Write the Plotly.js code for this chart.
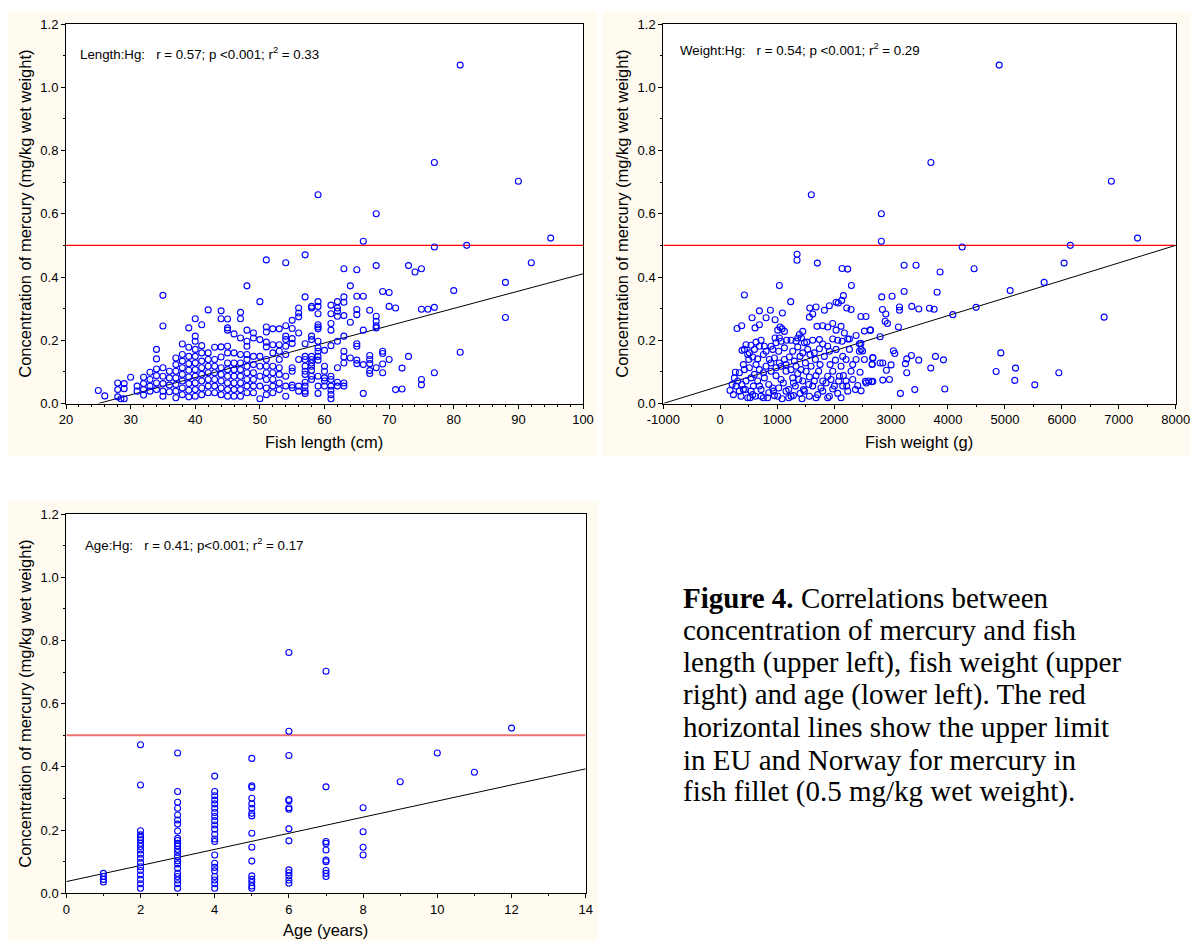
<!DOCTYPE html>
<html>
<head>
<meta charset="utf-8">
<script src="https://cdn.plot.ly/plotly-3.0.1.min.js"></script>
<style>
  html, body { margin: 0; padding: 0; background: #ffffff; }
  #chart { width: 1191px; height: 941px; }
</style>
</head>
<body>
<div id="chart"></div>
<script>
// ---------------- DATA ----------------
// Fish length (cm) vs Hg (mg/kg wet weight)
const lengthPoints = [
  [25,.041],[26,.024],[28,.065],[28,.044],[28,.021],[28.5,.015],[29,.063],[29,.047],[29,.015],[30,.083],
  [31,.055],[31,.039],[32,.083],[32,.063],[32,.044],[32,.027],[33,.099],[33,.076],[33,.055],[33,.039],
  [34,.171],[34,.141],[34,.109],[34,.088],[34,.065],[34,.044],
  [35,.342],[35,.245],[35,.113],[35,.086],[35,.063],[35,.039],[35,.023],
  [36,.102],[36,.081],[36,.058],[36,.037],
  [37,.144],[37,.123],[37,.102],[37,.081],[37,.06],[37,.039],[37,.018],
  [38,.188],[38,.155],[38,.134],[38,.113],[38,.092],[38,.071],[38,.049],[38,.028],
  [39,.239],[39,.178],[39,.149],[39,.126],[39,.105],[39,.084],[39,.063],[39,.042],[39,.021],
  [40,.268],[40,.213],[40,.197],[40,.171],[40,.149],[40,.128],[40,.107],[40,.086],[40,.065],[40,.044],[40,.023],
  [41,.249],[41,.183],[41,.16],[41,.134],[41,.113],[41,.092],[41,.071],[41,.049],[41,.028],
  [42,.296],[42,.16],[42,.139],[42,.118],[42,.097],[42,.076],[42,.055],[42,.034],
  [43,.178],[43,.139],[43,.118],[43,.097],[43,.076],[43,.055],[43,.034],
  [44,.293],[44,.268],[44,.179],[44,.147],[44,.113],[44,.092],[44,.071],[44,.049],[44,.028],
  [45,.267],[45,.239],[45,.232],[45,.181],[45,.16],[45,.128],[45,.107],[45,.086],[45,.065],[45,.044],[45,.023],
  [46,.22],[46,.16],[46,.128],[46,.107],[46,.086],[46,.065],[46,.044],[46,.023],
  [47,.288],[47,.268],[47,.207],[47,.155],[47,.128],[47,.107],[47,.086],[47,.065],[47,.044],[47,.023],
  [48,.372],[48,.232],[48,.197],[48,.181],[48,.155],[48,.139],[48,.118],[48,.097],[48,.076],[48,.055],[48,.034],
  [49,.223],[49,.207],[49,.149],[49,.123],[49,.097],[49,.076],[49,.055],[49,.034],
  [50,.322],[50,.202],[50,.149],[50,.118],[50,.086],[50,.055],[50,.015],
  [51,.454],[51,.242],[51,.226],[51,.194],[51,.179],[51,.139],[51,.118],[51,.097],[51,.076],[51,.049],[51,.028],
  [52,.236],[52,.186],[52,.16],[52,.118],[52,.097],[52,.076],[52,.055],[52,.034],
  [53,.236],[53,.186],[53,.165],[53,.139],[53,.113],[53,.092],[53,.065],[53,.044],
  [54,.445],[54,.246],[54,.213],[54,.202],[54,.181],[54,.155],[54,.086],[54,.055],[54,.023],
  [55,.263],[55,.237],[55,.205],[55,.19],[55,.113],[55,.102],[55,.058],[55,.05],
  [56,.302],[56,.286],[56,.274],[56,.223],[56,.139],[56,.055],[56,.039],
  [57,.47],[57,.337],[57,.189],[57,.149],[57,.139],[57,.118],[57,.102],[57,.092],[57,.067],[57,.055],[57,.039],[57,.032],
  [58,.307],[58,.302],[58,.213],[58,.202],[58,.149],[58,.139],[58,.128],[58,.118],[58,.105],[58,.086],[58,.076],
  [59,.66],[59,.322],[59,.307],[59,.284],[59,.249],[59,.242],[59,.236],[59,.197],[59,.176],[59,.165],[59,.149],[59,.137],[59,.086],[59,.055],[59,.032],
  [60,.168],[60,.118],[60,.102],[60,.081],[60,.071],[60,.055],
  [61,.311],[61,.284],[61,.253],[61,.232],[61,.183],[61,.086],[61,.076],[61,.055],[61,.042],[61,.028],[61,.015],
  [62,.322],[62,.302],[62,.292],[62,.276],[62,.197],[62,.113],[62,.067],[62,.055],
  [63,.426],[63,.337],[63,.32],[63,.278],[63,.213],[63,.165],[63,.147],[63,.128],[63,.065],[63,.055],
  [64,.372],[64,.257],[64,.144],
  [65,.423],[65,.339],[65,.297],[65,.281],[65,.189],[65,.181],[65,.137],[65,.126],
  [66,.513],[66,.339],[66,.232],[66,.123],[66,.032],
  [67,.295],[67,.152],[67,.139],[67,.126],[67,.104],[67,.095],
  [68,.6],[68,.436],[68,.276],[68,.26],[68,.246],[68,.239],[68,.113],
  [69,.354],[69,.165],[69,.158],[69,.125],[69,.097],
  [70,.351],[70,.307],[70,.139],[71,.302],[71,.044],[72,.112],[72,.046],[73,.436],[73,.149],[74,.416],
  [75,.426],[75,.298],[75,.076],[75,.059],[76,.298],[77,.762],[77,.495],[77,.304],[77,.097],
  [80,.357],[81,1.07],[81,.162],[82,.5],[88,.383],[88,.272],[90,.703],[92,.445],[95,.523]
];

// Fish weight (g) vs Hg
const weightPoints = [
  [1349,.472],[1349,.453],[1706,.444],[2140,.427],[2239,.425],[2304,.373],[1039,.373],[424,.343],[1238,.322],
  [1572,.302],[1683,.305],[1829,.295],[1917,.309],[2035,.32],[2134,.326],[2163,.341],[2075,.318],[2222,.302],[2298,.297],
  [688,.293],[881,.295],[805,.271],[963,.265],[1092,.286],[295,.237],[377,.246],[611,.239],[688,.249],[559,.271],
  [1051,.242],[1086,.236],[1127,.228],[1010,.232],[963,.207],[1039,.207],
  [1449,.228],[1390,.218],[1361,.207],[1478,.192],[1566,.273],[1624,.283],[1700,.244],[1800,.246],[1888,.242],
  [1976,.253],[2035,.232],[2122,.244],[2181,.223],[2269,.204],[2386,.215],[2533,.229],[2632,.232],
  [541,.184],[629,.194],[717,.2],[775,.181],[892,.181],[980,.192],[1068,.197],[1168,.2],[1244,.2],[1332,.197],
  [1426,.207],[1519,.194],[1624,.2],[1742,.202],[1800,.188],[1888,.181],[1976,.204],[2064,.2],[2140,.197],
  [2239,.204],[2444,.189],[2444,.165],[2679,.144],
  [383,.168],[453,.186],[483,.155],[570,.147],[658,.141],[758,.155],[863,.139],[951,.144],[1039,.128],[1127,.139],
  [1214,.147],[1302,.134],[1402,.149],[1496,.128],[1578,.155],[1671,.139],[1753,.123],[1829,.149],[1929,.123],
  [2023,.137],[2122,.118],[2210,.139],[2327,.123],[2456,.099],[2474,.171],[2667,.123],[2808,.128],
  [248,.081],[336,.097],[424,.107],[512,.113],[600,.092],[688,.107],[775,.081],[892,.102],[980,.088],[1068,.076],
  [1156,.102],[1273,.081],[1361,.095],[1449,.071],[1566,.084],[1683,.088],[1800,.071],[1888,.086],[1976,.102],
  [2093,.086],[2210,.071],[2327,.076],[2415,.057],[2562,.065],[2661,.069],[2855,.074],
  [172,.041],[231,.028],[278,.055],[365,.023],[406,.044],[483,.018],[541,.039],[617,.023],[688,.055],[758,.018],
  [852,.034],[922,.049],[1010,.023],[1086,.015],[1156,.039],[1244,.023],[1320,.055],[1402,.032],[1478,.039],
  [1566,.023],[1624,.055],[1712,.028],[1800,.039],[1888,.018],[1976,.046],[2064,.032],[2151,.055],[2239,.039],
  [2474,.04],[2609,.071],
  [406,.123],[453,.071],[500,.139],[541,.081],[582,.055],[629,.123],[658,.071],[717,.044],[758,.097],[805,.118],
  [852,.06],[892,.128],[934,.039],[980,.113],[1027,.049],[1068,.118],[1109,.065],[1156,.123],[1203,.044],[1244,.107],
  [1285,.065],[1332,.118],[1379,.076],[1420,.107],[1461,.044],[1508,.102],[1555,.06],[1596,.118],[1653,.071],
  [1729,.102],[1770,.049],[1858,.065],[1946,.076],[2005,.055],[2081,.071],[2163,.088],[2222,.055],[2298,.102],
  [2374,.044],[307,.071],[336,.039],[383,.06],[208,.06],[266,.099],[442,.044],[524,.018],[570,.028],[717,.023],
  [834,.018],[951,.025],[1203,.018],[1285,.025],[1437,.015],[1683,.018],[1917,.023],[2122,.018],
  [424,.171],[512,.16],[600,.171],[688,.181],[805,.165],[922,.171],[1027,.165],[1127,.176],[1273,.165],[1361,.179],
  [1449,.16],[1537,.171],[1653,.16],[1742,.173],[1917,.165],[2035,.171],[2151,.149],[2269,.171],[2386,.139],[2533,.139],
  [2470,.275],[2560,.275],[2640,.232],[2470,.19],[2500,.166],[2680,.145],[2670,.125],[2550,.07],[2680,.07],
  [3230,.437],[3440,.437],[3862,.416],[4459,.426],[6040,.444],[5689,.383],[5092,.357],[3809,.352],[3230,.354],
  [3019,.339],[2837,.337],[3364,.307],[3487,.299],[3675,.301],[3757,.298],[3148,.305],[3148,.295],[2849,.297],
  [2908,.283],[2896,.26],[2937,.253],[3130,.242],[4085,.281],[4494,.304],[6743,.273],[2808,.211],[3042,.167],
  [3066,.158],[2855,.128],[3001,.122],[2919,.105],[2972,.076],[3253,.126],[3276,.141],[3358,.152],[3487,.137],
  [3276,.097],[3165,.032],[3417,.044],[3698,.112],[3780,.149],[3921,.138],[3944,.046],[4928,.16],[4846,.101],
  [5174,.073],[5186,.112],[5525,.059],[5947,.097],[4250,.495],
  [1600,.66],[2830,.6],[2830,.513],[3700,.762],[4900,1.07],[6870,.703],[7330,.523],[6150,.50]
];

// Age (years) vs Hg
const agePoints = [
  [1,.063],[1,.053],[1,.044],[1,.036],
  [2,.47],[2,.343],[2,.198],[2,.185],[2,.177],[2,.169],[2,.158],[2,.148],[2,.137],[2,.124],[2,.111],[2,.097],
  [2,.084],[2,.072],[2,.058],[2,.044],[2,.030],[2,.016],
  [3,.444],[3,.322],[3,.288],[3,.269],[3,.248],[3,.232],[3,.219],[3,.197],[3,.174],[3,.167],[3,.158],[3,.150],
  [3,.139],[3,.129],[3,.116],[3,.103],[3,.093],[3,.079],[3,.063],[3,.053],[3,.042],[3,.030],[3,.016],
  [4,.371],[4,.322],[4,.309],[4,.295],[4,.283],[4,.269],[4,.256],[4,.243],[4,.230],[4,.216],[4,.203],[4,.187],
  [4,.172],[4,.164],[4,.121],[4,.095],[4,.082],[4,.071],[4,.053],[4,.042],[4,.030],[4,.016],
  [5,.427],[5,.340],[5,.335],[5,.301],[5,.283],[5,.269],[5,.253],[5,.245],[5,.19],[5,.146],[5,.102],[5,.055],
  [5,.044],[5,.034],[5,.023],[5,.016],
  [6,.762],[6,.513],[6,.436],[6,.297],[6,.293],[6,.271],[6,.266],[6,.204],[6,.166],[6,.074],[6,.065],[6,.055],
  [6,.042],[6,.032],
  [7,.703],[7,.337],[7,.164],[7,.158],[7,.137],[7,.105],[7,.1],[7,.072],[7,.063],[7,.053],
  [8,.271],[8,.195],[8,.146],[8,.121],[9,.353],[10,.444],[11,.383],[12,.523]
];

// Linear fits [intercept, slope] and EU/Norway limit
const lengthFit = [-0.1367, 0.005467];
const weightFit = [0.0556, 0.00005556];
const ageFit = [0.037, 0.0255];
const hgLimit = 0.5;

const lengthRange = [20, 100];
const weightRange = [-1000, 8000];
const ageRange = [0, 14];
const hgRange = [0, 1.2];

const weightTickVals = [-1000, 0, 1000, 2000, 3000, 4000, 5000, 6000, 7000, 8000];
const weightTickText = ['-1000', '0', '1000', '2000', '3000', '4000', '5000', '6000', '7000', '8000'];

const yTitle = 'Concentration of mercury (mg/kg wet weight)';
const statTexts = [
  'Length:Hg:\u00a0\u00a0\u00a0r = 0.57; p <0.001; r<sup>2</sup> = 0.33',
  'Weight:Hg:\u00a0\u00a0\u00a0r = 0.54; p <0.001; r<sup>2</sup> = 0.29',
  'Age:Hg:\u00a0\u00a0\u00a0r = 0.41; p<0.001; r<sup>2</sup> = 0.17'
];
const captionLines = [
  '<b>Figure 4.</b> Correlations between',
  'concentration of mercury and fish',
  'length (upper left), fish weight (upper',
  'right) and age (lower left). The red',
  'horizontal lines show the upper limit',
  'in EU and Norway for mercury in',
  'fish fillet (0.5 mg/kg wet weight).'
];

// ---------------- LAYOUT HELPERS ----------------
const W = 1191, H = 941;
const fx = p => p / W;
const fy = p => 1 - p / H;
const SANS = 'Liberation Sans, Arial, sans-serif';
const SERIF = 'Liberation Serif, Times New Roman, serif';

function scatter(points, xa, ya) {
  return {
    type: 'scatter', mode: 'markers',
    x: points.map(p => p[0]), y: points.map(p => p[1]),
    xaxis: xa, yaxis: ya,
    marker: { symbol: 'circle-open', size: 6, color: '#0000ff', line: { width: 1.1, color: '#0000ff' } },
    hoverinfo: 'x+y', showlegend: false
  };
}
function fitLine(fit, range, xa, ya) {
  const start = Math.max(range[0], -fit[0] / fit[1]);
  const xs = [start, range[1]];
  return {
    type: 'scatter', mode: 'lines', x: xs, y: xs.map(v => fit[0] + fit[1] * v),
    xaxis: xa, yaxis: ya, line: { color: '#000000', width: 1 }, hoverinfo: 'skip', showlegend: false
  };
}
function limitLine(range, xa, ya, color, width) {
  return {
    type: 'scatter', mode: 'lines', x: range, y: [hgLimit, hgLimit],
    xaxis: xa, yaxis: ya, line: { color: color, width: width }, hoverinfo: 'skip', showlegend: false
  };
}

const data = [
  limitLine(lengthRange, 'x', 'y', '#ff0000', 1.3),
  fitLine(lengthFit, lengthRange, 'x', 'y'),
  scatter(lengthPoints, 'x', 'y'),
  limitLine(weightRange, 'x2', 'y2', '#ff0000', 1.3),
  fitLine(weightFit, weightRange, 'x2', 'y2'),
  scatter(weightPoints, 'x2', 'y2'),
  limitLine(ageRange, 'x3', 'y3', '#f07070', 2),
  fitLine(ageFit, ageRange, 'x3', 'y3'),
  scatter(agePoints, 'x3', 'y3')
];

function axisBase() {
  return {
    showline: true, mirror: true, linecolor: '#000000', linewidth: 1,
    showgrid: false, zeroline: false,
    ticks: 'outside', ticklen: 4, tickwidth: 1, tickcolor: '#000000',
    tickfont: { family: SANS, size: 13, color: '#000000' },
    fixedrange: true
  };
}
function xAxis(domain, range, dtick, minorDtick, anchor) {
  return Object.assign(axisBase(), {
    domain: domain, range: range, dtick: dtick, tick0: 0, anchor: anchor,
    minor: { ticks: 'outside', ticklen: 2, dtick: minorDtick, tick0: 0, tickcolor: '#000000', showgrid: false }
  });
}
function yAxis(domain, anchor) {
  return Object.assign(axisBase(), {
    domain: domain, range: hgRange, dtick: 0.2, tick0: 0, tickformat: '.1f', anchor: anchor,
    minor: { ticks: 'outside', ticklen: 2, dtick: 0.1, tick0: 0, tickcolor: '#000000', showgrid: false }
  });
}

// pixel geometry of the three plot frames
const P1 = { l: 66, r: 583, t: 24, b: 403.5 };
const P2 = { l: 663.3, r: 1175.7, t: 24, b: 403.5 };
const P3 = { l: 66.3, r: 585.7, t: 514.2, b: 893.3 };

const xa2 = xAxis([fx(P2.l), fx(P2.r)], weightRange, 1000, 500, 'y2');
xa2.tickmode = 'array'; xa2.tickvals = weightTickVals; xa2.ticktext = weightTickText;

const layout = {
  width: W, height: H,
  margin: { l: 0, r: 0, t: 0, b: 0, pad: 0 },
  paper_bgcolor: '#ffffff', plot_bgcolor: 'rgba(0,0,0,0)',
  showlegend: false,
  xaxis: xAxis([fx(P1.l), fx(P1.r)], lengthRange, 10, 2, 'y'),
  yaxis: yAxis([fy(P1.b), fy(P1.t)], 'x'),
  xaxis2: xa2,
  yaxis2: yAxis([fy(P2.b), fy(P2.t)], 'x2'),
  xaxis3: xAxis([fx(P3.l), fx(P3.r)], ageRange, 2, 1, 'y3'),
  yaxis3: yAxis([fy(P3.b), fy(P3.t)], 'x3'),
  shapes: [],
  annotations: []
};

// panel backgrounds (cream) and white plotting areas
const cream = '#fffbf0';
[[8, 597, 11, 457], [602, 1191, 11, 457], [8, 598, 501, 941]].forEach(r => {
  layout.shapes.push({ type: 'rect', xref: 'paper', yref: 'paper', layer: 'below',
    x0: fx(r[0]), x1: fx(r[1]), y0: fy(r[3]), y1: fy(r[2]), fillcolor: cream, line: { width: 0 } });
});
[P1, P2, P3].forEach(p => {
  layout.shapes.push({ type: 'rect', xref: 'paper', yref: 'paper', layer: 'below',
    x0: fx(p.l), x1: fx(p.r), y0: fy(p.b), y1: fy(p.t), fillcolor: '#ffffff', line: { width: 0 } });
});

function ann(text, x, y, opts) {
  return Object.assign({
    text: text, xref: 'paper', yref: 'paper', x: fx(x), y: fy(y),
    showarrow: false, xanchor: 'center', yanchor: 'middle',
    font: { family: SANS, size: 16.5, color: '#000000' }
  }, opts || {});
}

// axis titles
layout.annotations.push(ann(yTitle, 25, (P1.t + P1.b) / 2, { textangle: -90 }));
layout.annotations.push(ann(yTitle, 622, (P2.t + P2.b) / 2, { textangle: -90 }));
layout.annotations.push(ann(yTitle, 25, (P3.t + P3.b) / 2, { textangle: -90 }));
layout.annotations.push(ann('Fish length (cm)', 324, 442));
layout.annotations.push(ann('Fish weight (g)', 919, 442));
layout.annotations.push(ann('Age (years)', 325, 930));

// statistics text
const statPos = [[78, 54], [678, 49], [83, 544]];
statTexts.forEach((t, i) => {
  layout.annotations.push(ann(t, statPos[i][0], statPos[i][1],
    { xanchor: 'left', font: { family: SANS, size: 13.3, color: '#000000' } }));
});

// caption
captionLines.forEach((t, i) => {
  layout.annotations.push(ann(t, 681, 598 + i * 32.3,
    { xanchor: 'left', font: { family: SERIF, size: 29, color: '#000000' } }));
});

Plotly.newPlot('chart', data, layout, { displayModeBar: false, staticPlot: true });
</script>
</body>
</html>
